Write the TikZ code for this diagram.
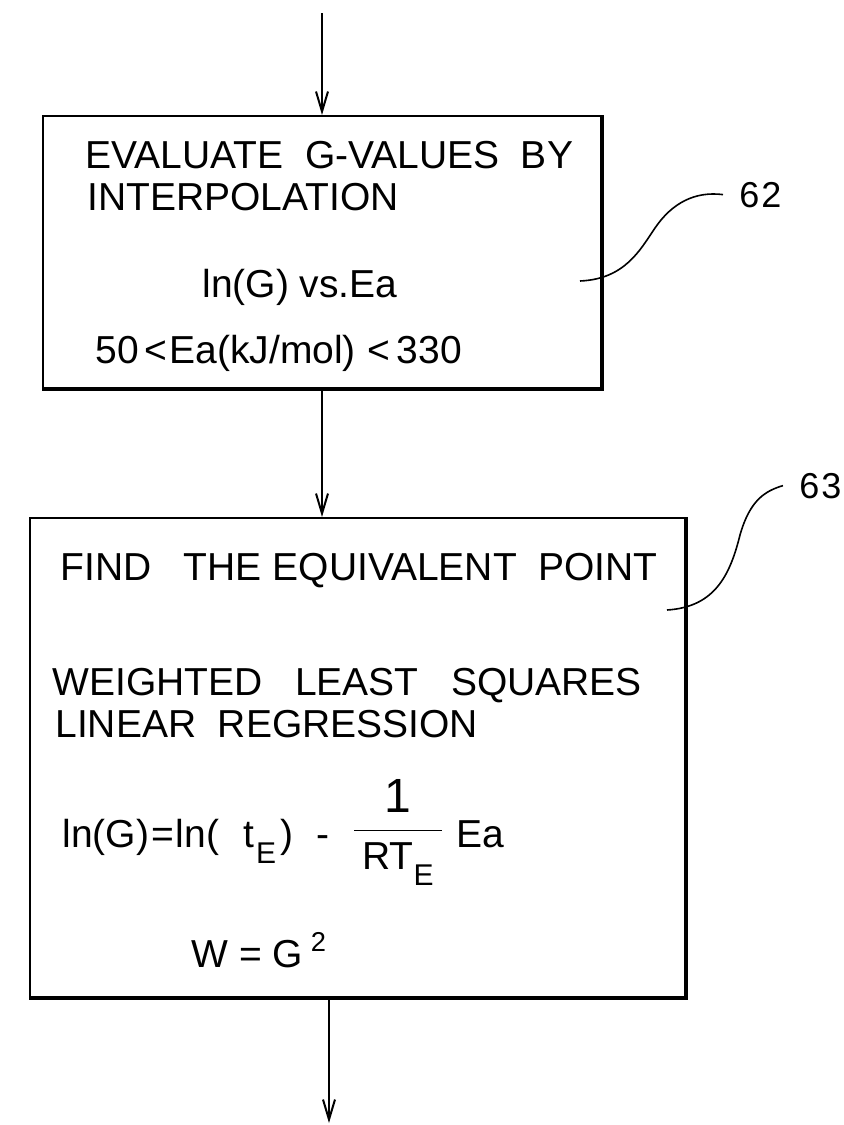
\documentclass[tikz,border=0pt]{standalone}
\usepackage{amsmath}
\usepackage{fontspec}
\setmainfont{Liberation Sans}
\usetikzlibrary{positioning,arrows.meta}

\tikzset{
  stepbox/.style={draw,line width=1pt,inner sep=0pt},
  heavy/.style={line width=2.2pt},
  txt/.style={anchor=base west,inner sep=0pt,font=\fontsize{19.5}{23}\selectfont},
  refnum/.style={anchor=base west,inner sep=0pt,font=\fontsize{18}{21}\selectfont},
  flow/.style={->,line width=1pt},
  leader/.style={line width=0.8pt}
}
\newcommand{\subE}{\raisebox{-8pt}{\fontsize{15}{15}\selectfont E}}

\begin{document}
\begin{tikzpicture}[x=0.5pt,y=-0.5pt,>={Straight Barb[length=10pt,width=6pt]}]
\fill[white] (0,0) rectangle (844,1125);
\useasboundingbox (0,0) rectangle (844,1125);
\node[stepbox,minimum width=279pt,minimum height=136pt] (eval) at (322,252) {};
\node[stepbox,minimum width=327.5pt,minimum height=239.5pt] (equiv) at (357.5,757.5) {};
\draw[heavy] (eval.north east) -- (eval.south east) -- (eval.south west);
\draw[heavy] (equiv.north east) -- (equiv.south east) -- (equiv.south west);
\node[txt] (e1) at (85,168) {EVALUATE\ \ G-VALUES\ \ BY};
\node[txt] (e2) at (87,210) {INTERPOLATION};
\node[txt] (e3) at (202,297) {ln(G) vs.Ea};
\node[txt] (e4) at (95,363) {50\hspace{3pt}<\hspace{1pt}Ea(kJ/mol)\hspace{6pt}<\hspace{3pt}330};
\node[txt] (f1) at (60,580) {FIND\ \ \ THE\ EQUIVALENT\ \ POINT};
\node[txt] (f2) at (52,695) {WEIGHTED\ \ \ LEAST\ \ \ SQUARES};
\node[txt] (f3) at (55,737) {LINEAR\ \ REGRESSION};
\node[txt] (f4) at (62,847) {ln(G)\hspace{1pt}=\hspace{1pt}ln(\hspace{12pt}t\hspace{1pt}\subE\hspace{2pt})\hspace{12pt}-\hspace{11pt}\raisebox{3pt}{$\dfrac{\text{\fontsize{24}{24}\selectfont 1}}{\hspace{4pt}\text{RT}\subE\hspace{4pt}}$}\hspace{6pt}Ea};
\node[txt] (f5) at (191,967) {W\ =\ G\hspace{4pt}\textsuperscript{2}};
\node[refnum] (n62) at (739,207) {6\kern1pt2};
\node[refnum] (n63) at (799,498) {6\kern1pt3};
\coordinate (start) at (322,13);
\coordinate (finish) at (329,1123);
\coordinate (t62) at (580,281);
\coordinate (t63) at (667,610);
\draw[flow] (start) -- (eval.north);
\draw[flow] (eval.south) -- (eval.south |- equiv.north);
\draw[flow] (finish |- equiv.south) -- (finish);
\draw[leader] (t62) .. controls (625,279) and (640,250) .. (655,228) .. controls (672,203) and (695,191) .. ([xshift=-8pt]n62.west);
\draw[leader] (t63) .. controls (715,607) and (730,575) .. (740,535) .. controls (750,500) and (765,491) .. ([xshift=-8pt]n63.west);
\end{tikzpicture}
\end{document}
